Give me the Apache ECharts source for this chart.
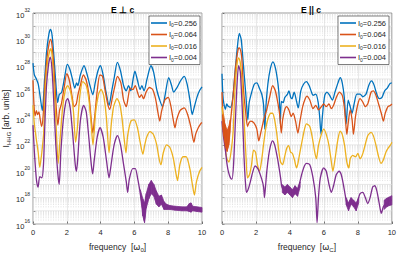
<!DOCTYPE html>
<html><head><meta charset="utf-8">
<script src="https://cdn.jsdelivr.net/npm/echarts@6/dist/echarts.min.js"></script>
<style>html,body{margin:0;padding:0;background:#fff}#c{width:399px;height:258px}</style>
</head><body><div id="c"></div>
<script>
// ---- labels / categories ----
const seriesNames = ['I0=0.256', 'I0=0.064', 'I0=0.016', 'I0=0.004'];
const seriesColors = ['#0072BD', '#D95319', '#EDB120', '#7E2F8E'];
const panelTitles = ['E \u22A5 c', 'E || c'];
const xTickValues = [0, 2, 4, 6, 8, 10];
const yExponentRange = [16, 32];
const yLabelExponents = [16, 18, 20, 22, 24, 26, 28, 30, 32];

// ---- data: [frequency, log10(intensity)] ----
const perpBlue = [[0,28.2],[0.08,27.3],[0.2,27.0],[0.31,26.6],[0.43,25.6],[0.55,24.6],[0.67,26.6],[0.8,29.0],[0.94,30.4],[1.04,30.75],[1.13,30.3],[1.25,28.5],[1.37,26.3],[1.46,25.2],[1.55,25.8],[1.7,26.0],[1.88,27.2],[2.03,28.1],[2.19,27.7],[2.33,27.0],[2.47,26.3],[2.58,26.7],[2.66,26.5],[2.8,27.3],[3.02,28.0],[3.21,27.3],[3.37,26.5],[3.54,25.8],[3.68,26.7],[3.84,27.6],[3.99,28.0],[4.15,27.3],[4.32,26.0],[4.5,25.0],[4.66,26.1],[4.82,27.2],[4.99,28.25],[5.18,27.6],[5.36,26.5],[5.52,26.1],[5.65,26.5],[5.79,26.1],[5.91,26.9],[6.03,27.6],[6.18,26.9],[6.34,26.2],[6.44,26.5],[6.57,26.1],[6.75,27.0],[6.98,28.0],[7.14,27.5],[7.32,26.2],[7.5,25.4],[7.66,24.9],[7.82,25.8],[8.03,27.1],[8.2,26.5],[8.32,26.0],[8.5,26.3],[8.75,26.9],[8.95,27.2],[9.12,26.6],[9.3,25.3],[9.42,24.3],[9.55,24.9],[9.7,25.6],[9.85,26.1],[10,26.4]];
const perpOrange = [[0,26.9],[0.06,25.0],[0.12,24.2],[0.2,24.6],[0.27,24.3],[0.35,24.5],[0.43,23.9],[0.51,23.4],[0.6,24.2],[0.7,26.6],[0.82,28.5],[0.94,29.6],[1.04,30.0],[1.13,29.5],[1.25,27.6],[1.37,24.9],[1.47,23.5],[1.57,24.6],[1.68,25.1],[1.84,26.3],[2.0,27.4],[2.15,26.9],[2.31,25.7],[2.43,24.9],[2.56,25.1],[2.66,25.8],[2.8,26.5],[2.98,27.3],[3.15,26.9],[3.31,25.8],[3.44,24.0],[3.54,22.9],[3.64,24.0],[3.8,26.1],[3.96,27.3],[4.11,27.2],[4.27,26.1],[4.42,25.1],[4.54,24.7],[4.7,25.6],[4.85,26.5],[5.0,27.2],[5.2,26.7],[5.36,25.4],[5.52,24.9],[5.63,25.6],[5.75,26.3],[5.91,26.2],[6.05,26.5],[6.18,26.0],[6.3,25.6],[6.42,25.8],[6.54,25.5],[6.69,26.0],[6.89,26.35],[7.08,26.2],[7.25,25.5],[7.4,24.4],[7.5,23.8],[7.6,24.5],[7.8,25.4],[8.0,25.6],[8.15,25.0],[8.3,23.9],[8.4,23.3],[8.5,23.9],[8.7,24.6],[8.95,24.8],[9.15,24.3],[9.35,23.3],[9.52,22.2],[9.62,22.8],[9.78,23.3],[9.92,23.6],[10,23.7]];
const perpYellow = [[0,25.0],[0.08,23.6],[0.2,22.4],[0.31,21.4],[0.4,20.3],[0.46,20.8],[0.52,21.4],[0.63,22.9],[0.74,26.6],[0.86,28.3],[0.98,29.1],[1.04,29.3],[1.13,28.8],[1.25,26.3],[1.37,23.4],[1.49,20.6],[1.6,22.4],[1.76,24.9],[1.92,26.2],[2.05,26.5],[2.23,26.0],[2.39,24.6],[2.52,22.2],[2.62,23.2],[2.76,25.6],[2.95,26.8],[3.15,26.5],[3.31,25.4],[3.44,23.6],[3.55,22.0],[3.7,24.4],[3.87,25.8],[4.03,26.2],[4.19,25.7],[4.34,24.1],[4.5,21.4],[4.62,23.4],[4.77,24.9],[4.97,25.5],[5.13,25.1],[5.26,24.1],[5.4,22.4],[5.5,21.4],[5.6,22.7],[5.79,23.8],[5.99,23.9],[6.18,23.3],[6.34,22.2],[6.5,21.3],[6.6,21.9],[6.73,22.6],[6.93,23.0],[7.12,22.8],[7.32,22.0],[7.47,20.9],[7.57,20.5],[7.71,21.4],[7.9,22.0],[8.1,21.8],[8.3,21.0],[8.45,19.9],[8.55,19.3],[8.69,20.5],[8.88,21.1],[9.06,21.1],[9.28,20.2],[9.43,19.0],[9.55,18.2],[9.67,19.2],[9.86,20.0],[10,20.3]];
const perpPurple = [[0,23.5],[0.08,21.5],[0.16,20.0],[0.22,19.2],[0.3,18.8],[0.4,19.6],[0.52,19.5],[0.62,20.5],[0.7,23.5],[0.8,26.5],[0.92,28.1],[1.02,28.65],[1.12,27.8],[1.22,25.5],[1.35,22.0],[1.47,19.8],[1.55,19.0],[1.65,21.5],[1.8,24.0],[1.95,25.3],[2.05,25.5],[2.2,24.8],[2.35,22.8],[2.5,20.5],[2.57,20.0],[2.65,21.0],[2.8,23.8],[3.0,25.0],[3.15,24.5],[3.3,22.6],[3.45,20.5],[3.53,19.8],[3.62,20.8],[3.8,22.6],[3.97,23.3],[4.15,22.6],[4.35,20.8],[4.5,19.5],[4.6,20.3],[4.8,22.0],[5.0,22.7],[5.18,22.0],[5.35,20.6],[5.52,19.2],[5.6,18.4],[5.7,19.4],[5.9,20.2],[6.05,20.2],[6.2,19.4],[6.34,18.4],[6.49,17.2],[6.59,16.2],[6.69,17.9],[6.85,18.7],[6.97,19.0],[7.08,18.8],[7.24,18.3],[7.38,17.7],[7.51,18.0],[7.63,17.8],[7.77,17.4],[7.96,17.3],[8.26,17.25],[8.55,17.2],[8.84,17.15],[9.14,17.2],[9.33,17.3],[9.53,17.15],[9.82,17.1],[10,17.1]];
// rapidly oscillating envelope of the 0.004 curve: [frequency, upper, lower]
const perpPurpleBand = [[6.35,18.6,18.2],[6.5,17.9,16.6],[6.6,17.6,16.1],[6.7,18.3,17.2],[6.85,19.0,17.9],[7.0,19.3,18.3],[7.15,19.0,18.1],[7.3,18.5,17.5],[7.45,18.1,17.3],[7.6,18.2,17.5],[7.75,17.7,17.1],[7.9,17.5,17.1],[8.1,17.4,17.1],[8.4,17.35,17.05],[8.8,17.3,17.0],[9.1,17.3,17.0],[9.25,17.55,16.95],[9.35,17.6,16.9],[9.45,17.35,17.0],[9.7,17.3,16.95],[10,17.25,16.9]];

const parBlue = [[0,27.4],[0.05,25.8],[0.1,25.2],[0.2,24.7],[0.28,25.1],[0.35,24.95],[0.49,24.85],[0.63,25.5],[0.78,27.7],[0.92,29.6],[1.02,30.45],[1.13,30.0],[1.27,27.9],[1.41,25.7],[1.52,23.9],[1.6,25.2],[1.75,26.0],[1.9,26.6],[2.05,26.7],[2.2,26.3],[2.35,25.8],[2.45,25.0],[2.52,23.2],[2.58,24.8],[2.7,26.6],[2.85,27.8],[3.0,28.3],[3.15,27.8],[3.3,26.6],[3.38,25.4],[3.43,23.6],[3.5,25.3],[3.6,25.2],[3.7,25.6],[3.86,25.85],[3.94,26.1],[4.05,25.6],[4.12,25.5],[4.25,26.0],[4.39,25.3],[4.49,24.8],[4.64,26.1],[4.8,26.6],[4.97,26.8],[5.13,26.5],[5.27,26.0],[5.36,25.75],[5.52,25.85],[5.66,25.25],[5.75,24.15],[5.83,22.8],[5.91,24.15],[6.05,25.75],[6.18,26.0],[6.34,25.75],[6.5,25.4],[6.65,26.0],[6.83,26.7],[6.96,27.1],[7.08,26.7],[7.2,25.6],[7.31,23.6],[7.43,25.4],[7.55,24.9],[7.66,24.4],[7.78,25.1],[7.94,25.85],[8.13,25.85],[8.29,25.65],[8.48,25.85],[8.64,26.5],[8.8,26.85],[8.95,26.55],[9.11,25.85],[9.26,25.5],[9.42,25.6],[9.58,26.1],[9.73,26.3],[9.89,26.65],[10,26.7]];
const parOrange = [[0,26.0],[0.05,24.5],[0.1,24.15],[0.18,23.2],[0.26,22.4],[0.33,21.7],[0.43,22.8],[0.53,24.15],[0.68,26.1],[0.82,28.1],[0.96,29.3],[1.03,29.35],[1.15,28.8],[1.27,26.1],[1.4,24.4],[1.5,23.4],[1.6,23.7],[1.7,23.8],[1.89,23.65],[2.05,23.2],[2.17,22.3],[2.28,22.9],[2.44,23.8],[2.63,24.65],[2.83,25.75],[2.98,26.5],[3.14,26.1],[3.3,25.1],[3.41,24.15],[3.49,22.9],[3.57,23.9],[3.69,24.65],[3.8,24.9],[3.94,24.65],[4.08,24.15],[4.19,24.4],[4.33,23.8],[4.47,22.9],[4.59,23.8],[4.75,24.9],[4.9,25.5],[5.0,25.7],[5.17,25.4],[5.36,24.75],[5.52,25.0],[5.68,24.65],[5.85,24.9],[5.99,25.1],[6.14,24.9],[6.3,25.1],[6.44,24.75],[6.57,25.0],[6.73,25.6],[6.92,26.0],[7.08,25.75],[7.2,24.9],[7.27,23.9],[7.35,22.8],[7.43,23.65],[7.55,24.65],[7.66,23.9],[7.74,22.8],[7.86,24.15],[8.0,25.1],[8.13,25.5],[8.29,25.25],[8.44,24.9],[8.58,25.1],[8.78,26.0],[8.91,26.1],[9.07,25.75],[9.22,25.1],[9.38,24.4],[9.5,23.8],[9.61,24.4],[9.77,24.9],[9.93,25.0],[10,25.1]];
const parOrangeBand = [[0.03,24.3,23.4],[0.1,23.9,22.7],[0.2,23.5,21.9],[0.3,23.1,21.5],[0.4,23.4,22.0],[0.48,23.9,23.0]];
const parYellow = [[0,24.9],[0.1,23.65],[0.18,21.95],[0.29,20.95],[0.41,20.7],[0.53,21.45],[0.65,22.9],[0.76,26.1],[0.88,28.05],[0.98,28.6],[1.07,28.3],[1.19,26.6],[1.31,23.65],[1.42,20.95],[1.5,19.5],[1.62,19.75],[1.74,20.5],[1.86,21.6],[1.97,21.45],[2.09,20.5],[2.21,20.0],[2.32,20.7],[2.44,21.95],[2.57,23.2],[2.71,24.0],[2.87,24.4],[2.98,24.4],[3.1,23.9],[3.22,22.9],[3.33,21.7],[3.45,20.7],[3.57,20.5],[3.69,21.1],[3.8,21.7],[3.92,21.95],[4.04,21.45],[4.15,21.35],[4.27,20.85],[4.39,20.25],[4.47,20.6],[4.59,21.45],[4.74,22.45],[4.86,23.2],[4.97,23.6],[5.17,23.4],[5.33,22.45],[5.46,21.45],[5.56,20.95],[5.68,21.95],[5.85,22.8],[5.99,23.2],[6.14,22.8],[6.3,21.95],[6.44,20.7],[6.53,20.0],[6.63,20.7],[6.83,22.45],[6.96,23.05],[7.08,22.8],[7.22,21.95],[7.35,20.7],[7.47,20.25],[7.55,20.95],[7.7,21.2],[7.86,21.1],[8.0,21.35],[8.13,20.95],[8.25,21.2],[8.39,21.8],[8.58,22.7],[8.78,22.95],[8.91,22.7],[9.07,21.95],[9.22,21.1],[9.36,20.6],[9.5,20.85],[9.65,21.45],[9.81,21.8],[9.95,22.05],[10,22.2]];
const parPurple = [[0,23.8],[0.1,22.5],[0.2,21.6],[0.3,20.5],[0.39,19.9],[0.5,19.5],[0.59,19.4],[0.68,20.5],[0.78,23.5],[0.88,26.5],[0.98,28.0],[1.08,27.5],[1.2,24.5],[1.3,21.0],[1.4,18.8],[1.46,18.4],[1.56,18.7],[1.66,19.15],[1.8,19.9],[1.95,20.4],[2.05,20.3],[2.15,20.1],[2.34,19.4],[2.45,18.8],[2.5,18.0],[2.56,18.8],[2.63,19.9],[2.75,21.2],[2.85,21.9],[2.97,22.3],[3.1,22.0],[3.22,21.3],[3.32,20.6],[3.45,19.5],[3.51,18.9],[3.6,18.6],[3.7,18.5],[3.8,18.7],[3.95,18.5],[4.1,18.3],[4.25,18.6],[4.4,18.4],[4.55,19.0],[4.7,19.8],[4.85,20.4],[4.97,20.6],[5.17,20.5],[5.36,19.5],[5.52,18.0],[5.6,16.1],[5.68,18.0],[5.79,19.5],[5.99,20.25],[6.14,20.0],[6.3,19.0],[6.44,18.4],[6.57,18.9],[6.73,19.75],[6.89,20.0],[7.02,19.75],[7.16,18.9],[7.31,17.8],[7.43,17.3],[7.55,17.8],[7.7,17.6],[7.86,17.3],[8.0,17.8],[8.13,18.3],[8.29,18.4],[8.44,18.0],[8.58,17.55],[8.72,18.0],[8.87,18.8],[8.99,18.9],[9.11,18.55],[9.26,17.55],[9.38,16.8],[9.5,17.3],[9.65,17.55],[9.81,17.7],[9.95,17.8],[10,17.8]];
const parPurpleBand1 = [[3.55,19.0,18.4],[3.7,18.8,18.2],[3.85,19.0,18.4],[4.0,18.8,18.2],[4.15,18.6,18.0],[4.3,18.9,18.3],[4.45,18.7,18.1],[4.6,19.2,18.8]];
const parPurpleBand2 = [[7.3,18.0,17.5],[7.45,17.6,17.0],[7.6,18.0,17.5],[7.75,17.8,17.3],[7.9,17.6,17.0],[8.05,18.0,17.6]];
const parPurpleBand3 = [[9.55,17.8,17.1],[9.7,17.95,17.3],[9.85,18.05,17.4],[10,18.15,17.45]];

// ---- build ----
const toPts = arr => arr.map(p => [p[0], Math.pow(10, p[1])]);
const FONT = 'Liberation Sans, Arial, sans-serif';
const AXC = '#262626';

function lineSeries(idx, name, arr, color) {
  return { type: 'line', name: name, xAxisIndex: idx, yAxisIndex: idx, data: toPts(arr),
    showSymbol: false, smooth: 0.25, z: 3, clip: true,
    lineStyle: { color: color, width: 1.3 }, itemStyle: { color: color }, emphasis: { disabled: true } };
}
function bandSeries(idx, arr, color) {
  const items = [];
  for (let i = 0; i < arr.length - 1; i++) {
    const a = arr[i], b = arr[i + 1];
    items.push([a[0], Math.pow(10, a[1]), Math.pow(10, a[2]), b[0], Math.pow(10, b[1]), Math.pow(10, b[2])]);
  }
  return { type: 'custom', xAxisIndex: idx, yAxisIndex: idx, silent: true, z: 4, data: items,
    encode: { x: [0, 3], y: [1, 2, 4, 5] },
    renderItem: (params, api) => {
      const p1 = api.coord([api.value(0), api.value(1)]);
      const p2 = api.coord([api.value(3), api.value(4)]);
      const p3 = api.coord([api.value(3), api.value(5)]);
      const p4 = api.coord([api.value(0), api.value(2)]);
      return { type: 'polygon', shape: { points: [p1, p2, p3, p4] },
        style: { fill: color, stroke: color, lineWidth: 0.8 } };
    } };
}
// log-axis grid: decade lines (solid, light) and 2..9 minor lines (dotted)
function logGridSeries(idx) {
  const vals = [];
  for (let e = yExponentRange[0]; e < yExponentRange[1]; e++) {
    for (let k = 1; k <= 9; k++) vals.push([0, k * Math.pow(10, e), k === 1 ? 1 : 0]);
  }
  return { type: 'custom', xAxisIndex: idx, yAxisIndex: idx, silent: true, z: 1, data: vals,
    encode: { x: 0, y: 1 },
    renderItem: (params, api) => {
      const a = api.coord([0, api.value(1)]);
      const b = api.coord([10, api.value(1)]);
      const major = api.value(2) === 1;
      return { type: 'line', shape: { x1: a[0], y1: a[1], x2: b[0], y2: b[1] },
        style: major ? { stroke: '#dedede', lineWidth: 0.7 } : { stroke: '#d2d2d2', lineWidth: 0.6, lineDash: [1, 1.5] } };
    } };
}

const grids = [
  { left: 33, top: 13, width: 169, height: 218, show: true, borderColor: '#808080', borderWidth: 0.8, backgroundColor: '#fff' },
  { left: 222, top: 13, width: 171, height: 218, show: true, borderColor: '#808080', borderWidth: 0.8, backgroundColor: '#fff' }
];
const xNames = ['frequency  [{w|\u03C9}{sub|0}]', 'frequency  [{w|\u03C9}{sub|C}]'];
const xAxes = [0, 1].map(i => ({
  type: 'value', gridIndex: i, min: xTickValues[0], max: xTickValues[xTickValues.length - 1], interval: 2,
  name: xNames[i], nameLocation: 'middle', nameGap: 17,
  nameTextStyle: { fontFamily: FONT, fontSize: 8.5, color: AXC,
    rich: { w: { fontSize: 8.5, fontFamily: 'DejaVu Sans', color: AXC }, sub: { fontSize: 6, color: AXC, verticalAlign: 'bottom', lineHeight: 12, padding: [4, 0, 0, 0] } } },
  axisLine: { show: false }, axisTick: { inside: true, length: 2.5, lineStyle: { color: AXC, width: 0.6 } },
  axisLabel: { fontFamily: FONT, fontSize: 7.5, color: AXC, margin: 4 },
  splitLine: { show: true, lineStyle: { color: '#dfdfdf', width: 0.7 } }
}));
const labelVals = yLabelExponents.map(e => Math.pow(10, e));
const tickVals = [];
for (let e = yExponentRange[0]; e <= yExponentRange[1]; e++) tickVals.push(Math.pow(10, e));
const yAxes = [0, 1].map(i => ({
  type: 'log', logBase: 10, gridIndex: i, min: Math.pow(10, yExponentRange[0]), max: Math.pow(10, yExponentRange[1]),
  name: i === 0 ? 'I{sub|HHG} [arb. units]' : '', nameLocation: 'middle', nameGap: 20, nameRotate: 90,
  nameTextStyle: { fontFamily: FONT, fontSize: 8.5, color: AXC,
    rich: { sub: { fontSize: 6, color: AXC, verticalAlign: 'bottom', lineHeight: 12, padding: [4, 0, 0, 0] } } },
  axisLine: { show: false },
  axisTick: { show: true, inside: true, length: 2.5, customValues: tickVals, lineStyle: { color: AXC, width: 0.6 } },
  axisLabel: { show: i === 0, customValues: labelVals, fontFamily: FONT, fontSize: 7.5, color: AXC, margin: 3,
    formatter: v => '{b|10}{s|' + Math.round(Math.log10(v)) + '}',
    rich: { b: { fontSize: 7.5, color: AXC, verticalAlign: 'bottom', lineHeight: 12 }, s: { fontSize: 5, color: AXC, verticalAlign: 'top', lineHeight: 12 } } },
  splitLine: { show: false }
}));

const panelData = [
  [perpBlue, perpOrange, perpYellow, perpPurple],
  [parBlue, parOrange, parYellow, parPurple]
];
const series = [];
[0, 1].forEach(i => {
  series.push(logGridSeries(i));
  panelData[i].forEach((arr, k) => series.push(lineSeries(i, seriesNames[k], arr, seriesColors[k])));
});
series.push(bandSeries(1, parOrangeBand, seriesColors[1]));
series.push(bandSeries(0, perpPurpleBand, seriesColors[3]));
series.push(bandSeries(1, parPurpleBand1, seriesColors[3]));
series.push(bandSeries(1, parPurpleBand2, seriesColors[3]));
series.push(bandSeries(1, parPurpleBand3, seriesColors[3]));

function legendAt(left) {
  return { data: seriesNames, orient: 'vertical', left: left, top: 16, padding: [3, 3, 2, 2], itemGap: 2.5,
    itemWidth: 16, itemHeight: 1.6, icon: 'rect', backgroundColor: '#fff', borderColor: AXC, borderWidth: 0.6,
    selectedMode: false, z: 10,
    formatter: n => n.replace('I0', 'I{sub|0}'),
    textStyle: { fontFamily: FONT, fontSize: 7.5, color: AXC, padding: [0, 0, 0, -3],
      rich: { sub: { fontSize: 5, color: AXC, verticalAlign: 'bottom', lineHeight: 10, padding: [3, 0, 0, 0] } } } };
}

const chart = echarts.init(document.getElementById('c'), null, { renderer: 'svg', width: 399, height: 258 });
chart.setOption({
  animation: false,
  backgroundColor: '#fff',
  title: [
    { text: panelTitles[0], left: 106, top: 0, textStyle: { fontFamily: FONT, fontSize: 8.5, fontWeight: 'bold', color: '#000' } },
    { text: panelTitles[1], left: 296, top: 0, textStyle: { fontFamily: FONT, fontSize: 8.5, fontWeight: 'bold', color: '#000' } }
  ],
  grid: grids,
  xAxis: xAxes,
  yAxis: yAxes,
  legend: [legendAt(149), legendAt(338)],
  series: series
});
</script></body></html>
